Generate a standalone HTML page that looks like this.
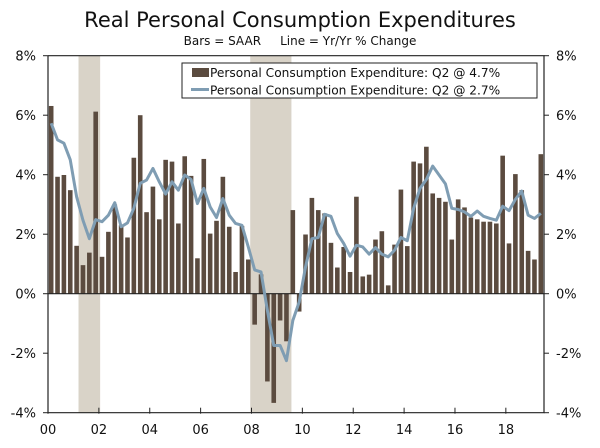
<!DOCTYPE html>
<html><head><meta charset="utf-8"><style>
body{margin:0;background:#fff}
svg text{font-family:"DejaVu Sans","Liberation Sans",sans-serif}
</style></head><body>
<svg id="c" width="600" height="443" viewBox="0 0 600 443">
<text x="300" y="27" text-anchor="middle" font-size="21" fill="#111">Real Personal Consumption Expenditures</text>
<text x="300" y="45" text-anchor="middle" font-size="12" fill="#111" xml:space="preserve">Bars = SAAR     Line = Yr/Yr % Change</text>
<g id="plot"></g>
</svg>
<script>
const startYear = 2000;
const barValues = [6.31,3.93,3.99,3.48, 1.61,0.96,1.38,6.12, 1.24,2.08,3.0,2.3, 1.89,4.57,6.0,2.74, 3.6,2.5,4.5,4.44, 2.36,4.62,3.96,1.19, 4.53,2.02,2.45,3.93, 2.25,0.73,2.28,1.15, -1.04,0.65,-2.95,-3.67, -0.9,-1.6,2.81,-0.6, 1.99,3.22,2.81,2.7, 1.71,0.88,1.57,0.73, 3.26,0.58,0.64,1.82, 2.1,0.28,1.65,3.5, 1.6,4.44,4.38,4.94, 3.37,3.22,3.09,1.82, 3.17,2.9,2.56,2.5, 2.42,2.42,2.36,4.64, 1.69,4.02,3.48,1.44, 1.15,4.69];
const lineValues = [5.73,5.17,5.06,4.5, 3.26,2.47,1.85,2.49, 2.42,2.64,3.06,2.25, 2.38,2.87,3.71,3.82, 4.21,3.76,3.35,3.76, 3.48,3.99,3.84,3.03, 3.54,2.92,2.56,3.2, 2.64,2.36,2.3,1.57, 0.8,0.73,-0.56,-1.74, -1.74,-2.25,-0.9,-0.28, 0.9,1.85,1.89,2.67, 2.6,2.02,1.69,1.26, 1.63,1.57,1.33,1.55, 1.33,1.24,1.46,1.89, 1.78,2.87,3.54,3.84, 4.29,3.99,3.69,2.87, 2.83,2.75,2.6,2.78, 2.6,2.53,2.47,2.94, 2.79,3.17,3.45,2.64, 2.53,2.7];
const recessions = [[2001.2,2002.05],[2007.95,2009.57]];
const yTicks = [8,6,4,2,0,-2,-4];
const xTickLabels = ["00","02","04","06","08","10","12","14","16","18"];
const legendLabels = ["Personal Consumption Expenditure: Q2 @ 4.7%","Personal Consumption Expenditure: Q2 @ 2.7%"];

const X0=48, X1=544, Y8=55.7, PER=29.75;
const qw=(X1-X0)/barValues.length;
const xq=i=>X0+qw*(i+0.5);
const xy=yr=>X0+(yr-startYear)*qw*4;
const y=v=>Y8+(8-v)*PER;
const NS="http://www.w3.org/2000/svg";
const g=document.getElementById('plot');
function mk(t,a,p){const e=document.createElementNS(NS,t);for(const k in a)e.setAttribute(k,a[k]);(p||g).appendChild(e);return e;}

recessions.forEach(r=>{
 const e=mk('rect',{x:xy(r[0]),y:Y8,width:xy(r[1])-xy(r[0]),height:y(-4)-Y8,fill:'#d9d3c8'});
 
 
});
barValues.forEach((v,i)=>{
 const e=mk('rect',{x:xq(i)-2.3,y:Math.min(y(v),y(0)),width:4.6,height:Math.abs(y(v)-y(0)),fill:'#5b4b3f'});
 
 
});
let zl=mk('line',{x1:X0,x2:X1,y1:y(0),y2:y(0),stroke:'#222','stroke-width':1.2});


const pl=mk('polyline',{points:lineValues.map((v,i)=>xq(i)+','+y(v)).join(' '),fill:'none',stroke:'#7f9db3','stroke-width':3,'stroke-linejoin':'round'});


const ax=mk('path',{d:`M${X0},${Y8}V${y(-4)}H${X1}V${Y8}H${X0}`,fill:'none',stroke:'#222','stroke-width':1.2});


yTicks.forEach(v=>{
 mk('line',{x1:X0-5,x2:X0,y1:y(v),y2:y(v),stroke:'#222'});
 mk('line',{x1:X1,x2:X1+5,y1:y(v),y2:y(v),stroke:'#222'});
 const t=mk('text',{x:36,y:y(v)+5,'text-anchor':'end','font-size':13,fill:'#111'});t.textContent=v+'%';
 
 
 const t2=mk('text',{x:556,y:y(v)+5,'font-size':13,fill:'#111'});t2.textContent=v+'%';
 
 
});
xTickLabels.forEach((l,k)=>{
 const xx=xy(startYear+2*k);
 mk('line',{x1:xx,x2:xx,y1:y(-4)-5,y2:y(-4)+1,stroke:'#222'});
 const t=mk('text',{x:xx,y:434,'text-anchor':'middle','font-size':13,fill:'#111'});t.textContent=l;
 
 
});
const lg=mk('g',{});


mk('rect',{x:182,y:63,width:355,height:35,fill:'#fff',stroke:'#222'},lg);
mk('rect',{x:192,y:68,width:17,height:9,fill:'#5b4b3f'},lg);
mk('line',{x1:191,x2:209,y1:89.5,y2:89.5,stroke:'#7f9db3','stroke-width':3},lg);
legendLabels.forEach((l,k)=>{
 const t=mk('text',{x:210,y:77+k*17.5,'font-size':12.2,fill:'#111'},lg);t.textContent=l;
 
 
});
</script>
</body></html>
